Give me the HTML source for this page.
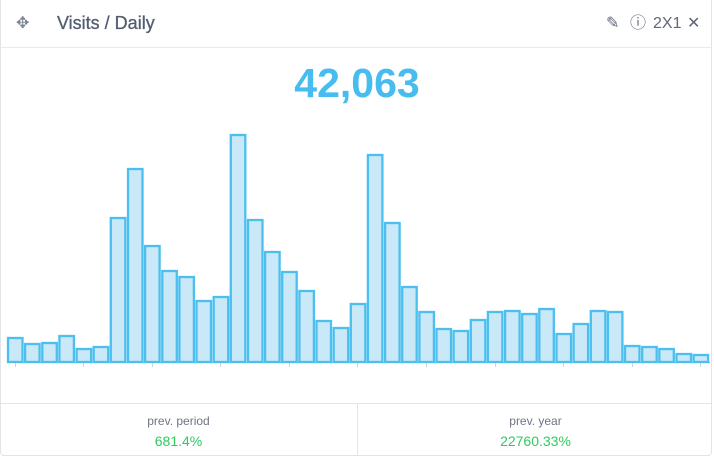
<!DOCTYPE html>
<html><head><meta charset="utf-8"><style>
html,body{margin:0;padding:0;background:#fff;}
body{width:714px;height:458px;position:relative;overflow:hidden;font-family:"Liberation Sans",sans-serif;}
.card{position:absolute;left:0;top:0;width:712px;height:456px;border:1px solid #e1e3e6;border-top:none;border-radius:0 0 4px 4px;box-sizing:border-box;}
.hdr{position:absolute;left:0;top:47px;width:712px;height:1px;background:#e8eaed;}
.title{position:absolute;left:57px;top:13px;font-size:18px;color:#525d70;-webkit-text-stroke:0.3px #525d70;}
.move{position:absolute;left:16px;top:13px;font-size:16px;color:#7a8392;}
.ic{position:absolute;top:14px;font-size:16px;color:#5f6877;line-height:20px;}
.big{position:absolute;left:0;width:714px;top:60px;text-align:center;font-size:41px;font-weight:bold;color:#47bdef;}
.ftr{position:absolute;left:0;top:403px;width:712px;height:1px;background:#e3e5e8;}
.div{position:absolute;left:357px;top:404px;width:1px;height:52px;background:#e3e5e8;}
.lab{position:absolute;top:414px;font-size:12px;color:#6d7482;text-align:center;width:357px;}
.val{position:absolute;top:433px;font-size:14px;color:#2ecc5f;text-align:center;width:357px;}
</style></head><body>
<div class="card"></div>
<div class="hdr"></div>
<div class="move">✥</div>
<div class="title">Visits / Daily</div>
<div class="ic" style="left:606px">✎</div>
<div class="ic" style="left:630px">ⓘ</div>
<div class="ic" style="left:653px">2X1</div>
<div class="ic" style="left:687px">✕</div>
<div class="big">42,063</div>
<svg width="714" height="458" style="position:absolute;left:0;top:0">
<g fill="#c9e9f9" stroke="#4cbfee" stroke-width="2.3">
<rect x="8" y="338" width="14.5" height="24"/>
<rect x="25.1" y="344" width="14.5" height="18"/>
<rect x="42.3" y="343" width="14.5" height="19"/>
<rect x="59.4" y="336" width="14.5" height="26"/>
<rect x="76.6" y="349" width="14.5" height="13"/>
<rect x="93.7" y="347" width="14.5" height="15"/>
<rect x="110.8" y="218" width="14.5" height="144"/>
<rect x="128" y="169" width="14.5" height="193"/>
<rect x="145.1" y="246" width="14.5" height="116"/>
<rect x="162.3" y="271" width="14.5" height="91"/>
<rect x="179.4" y="277" width="14.5" height="85"/>
<rect x="196.5" y="301" width="14.5" height="61"/>
<rect x="213.7" y="297" width="14.5" height="65"/>
<rect x="230.8" y="135" width="14.5" height="227"/>
<rect x="248" y="220" width="14.5" height="142"/>
<rect x="265.1" y="252" width="14.5" height="110"/>
<rect x="282.2" y="272" width="14.5" height="90"/>
<rect x="299.4" y="291" width="14.5" height="71"/>
<rect x="316.5" y="321" width="14.5" height="41"/>
<rect x="333.7" y="328" width="14.5" height="34"/>
<rect x="350.8" y="304" width="14.5" height="58"/>
<rect x="367.9" y="155" width="14.5" height="207"/>
<rect x="385.1" y="223" width="14.5" height="139"/>
<rect x="402.2" y="287" width="14.5" height="75"/>
<rect x="419.4" y="312" width="14.5" height="50"/>
<rect x="436.5" y="329" width="14.5" height="33"/>
<rect x="453.6" y="331" width="14.5" height="31"/>
<rect x="470.8" y="320" width="14.5" height="42"/>
<rect x="487.9" y="312" width="14.5" height="50"/>
<rect x="505.1" y="311" width="14.5" height="51"/>
<rect x="522.2" y="314" width="14.5" height="48"/>
<rect x="539.3" y="309" width="14.5" height="53"/>
<rect x="556.5" y="334" width="14.5" height="28"/>
<rect x="573.6" y="324" width="14.5" height="38"/>
<rect x="590.8" y="311" width="14.5" height="51"/>
<rect x="607.9" y="312" width="14.5" height="50"/>
<rect x="625" y="346" width="14.5" height="16"/>
<rect x="642.2" y="347" width="14.5" height="15"/>
<rect x="659.3" y="349" width="14.5" height="13"/>
<rect x="676.5" y="354" width="14.5" height="8"/>
<rect x="693.6" y="355" width="14.5" height="7"/>
</g>
<line x1="7" y1="362.5" x2="710" y2="362.5" stroke="#4cbfee" stroke-width="1"/>
<g stroke="#cfd3d8" stroke-width="1">
<line x1="15.5" y1="363" x2="15.5" y2="367"/><line x1="83.5" y1="363" x2="83.5" y2="367"/>
<line x1="152.5" y1="363" x2="152.5" y2="367"/><line x1="220.5" y1="363" x2="220.5" y2="367"/>
<line x1="289.5" y1="363" x2="289.5" y2="367"/><line x1="357.5" y1="363" x2="357.5" y2="367"/>
<line x1="426.5" y1="363" x2="426.5" y2="367"/><line x1="495.5" y1="363" x2="495.5" y2="367"/>
<line x1="563.5" y1="363" x2="563.5" y2="367"/><line x1="632.5" y1="363" x2="632.5" y2="367"/>
<line x1="700.5" y1="363" x2="700.5" y2="367"/>
</g>
</svg>
<div class="ftr"></div>
<div class="div"></div>
<div class="lab" style="left:0">prev. period</div>
<div class="lab" style="left:357px">prev. year</div>
<div class="val" style="left:0">681.4%</div>
<div class="val" style="left:357px">22760.33%</div>
</body></html>
